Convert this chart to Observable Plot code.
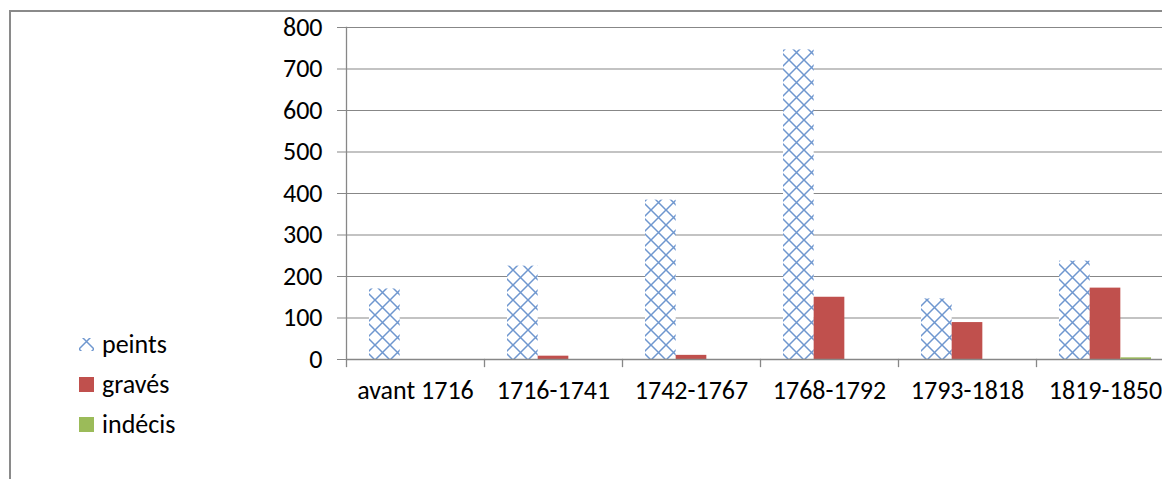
<!DOCTYPE html>
<html>
<head>
<meta charset="utf-8">
<script src="https://cdn.jsdelivr.net/npm/d3@7"></script>
<script src="https://cdn.jsdelivr.net/npm/@observablehq/plot@0.6"></script>
<style>
  html, body { margin: 0; padding: 0; overflow: hidden; background: #fff; }
  body { width: 1162px; height: 479px; position: relative; font-family: Carlito, Calibri, "Liberation Sans", sans-serif; }
  #chart { position: absolute; left: 0; top: 0; }
  #frame { position: absolute; left: 9px; top: 10px; width: 2000px; height: 2000px;
           border-top: 2px solid #8a8a8a; border-left: 2px solid #8a8a8a; pointer-events: none; }
  #legend { position: absolute; left: 79px; top: 324px; font-size: 26px; color: #000; }
  #legend .row { display: flex; align-items: center; height: 40px; }
  #legend .sw { width: 15px; height: 15px; margin-right: 8px; }
</style>
</head>
<body>
<div id="chart"></div>
<div id="legend"></div>
<div id="frame"></div>
<script>
const categories = ["avant 1716", "1716-1741", "1742-1767", "1768-1792", "1793-1818", "1819-1850"];
const series = ["peints", "gravés", "indécis"];
const peints = [170, 225, 384, 746, 146, 237];
const graves = [0, 8, 10, 150, 89, 172];
const indecis = [0, 0, 0, 0, 0, 4];
const yTicks = [0, 100, 200, 300, 400, 500, 600, 700, 800];
const seriesColors = ["url(#hatch)", "#C0504D", "#9BBB59"];

const values = [peints, graves, indecis];
const data = [];
categories.forEach((cat, i) => {
  series.forEach((s, j) => data.push({cat, series: s, value: values[j][i]}));
});

const gray = "#878787";
const H = 479, MT = 27, MB = 120;
const FONT = 'Carlito, Calibri, "Liberation Sans", sans-serif';

const plot = Plot.plot({
  width: 1174,
  height: H,
  marginLeft: 346,
  marginRight: 0,
  marginTop: MT,
  marginBottom: MB,
  style: {fontFamily: FONT, fontSize: "26px", maxWidth: "none", background: "transparent", overflow: "visible"},
  fx: {domain: categories, paddingInner: 0, paddingOuter: 0, round: false, label: null, axis: null},
  x: {domain: series, paddingInner: 0, paddingOuter: 0.75, round: false, axis: null},
  y: {domain: [0, 800], label: null, axis: null},
  color: {type: "ordinal", domain: series, range: seriesColors},
  marks: [
    Plot.gridY(yTicks, {stroke: gray, strokeOpacity: 1, strokeWidth: 1}),
    Plot.barY(data, {fx: "cat", x: "series", y: "value", fill: "series"}),
    Plot.ruleY([0], {stroke: gray, strokeWidth: 1.3}),
    Plot.frame({anchor: "left", facetAnchor: "left", stroke: gray, strokeWidth: 1.3}),
    Plot.frame({anchor: "left", insetTop: H - MT - MB, insetBottom: -7, stroke: gray, strokeWidth: 1.3}),
    Plot.axisY(yTicks, {tickSize: 9, tickPadding: 15, stroke: gray, fill: "#000", fontSize: 26, tickFormat: d => String(d)}),
    Plot.axisFx({anchor: "bottom", tickSize: 0, tickPadding: 21, fill: "#000", fontSize: 26, label: null})
  ]
});

d3.select(plot).insert("defs", ":first-child").html(
  '<pattern id="hatch" patternUnits="userSpaceOnUse" width="15" height="15">' +
  '<rect width="15" height="15" fill="#fff"/>' +
  '<path d="M-1,-1L16,16M16,-1L-1,16" stroke="#6F97CF" stroke-width="1.5" fill="none"/>' +
  '</pattern>'
);
document.getElementById("chart").appendChild(plot);

// legend
const legend = d3.select("#legend");
series.forEach((s, j) => {
  const row = legend.append("div").attr("class", "row");
  const sw = row.append("svg").attr("class", "sw").attr("width", 15).attr("height", 15);
  if (j === 0) {
    sw.append("defs").html(
      '<pattern id="hatchL" patternUnits="userSpaceOnUse" width="15" height="15" x="0" y="-3">' +
      '<path d="M-1,-1L16,16M16,-1L-1,16" stroke="#6F97CF" stroke-width="1.5" fill="none"/>' +
      '</pattern>');
    sw.append("rect").attr("width", 15).attr("height", 13).attr("y", 1).attr("fill", "url(#hatchL)");
  } else {
    sw.append("rect").attr("width", 15).attr("height", 15).attr("fill", seriesColors[j]);
  }
  row.append("span").text(s);
});
</script>
</body>
</html>
